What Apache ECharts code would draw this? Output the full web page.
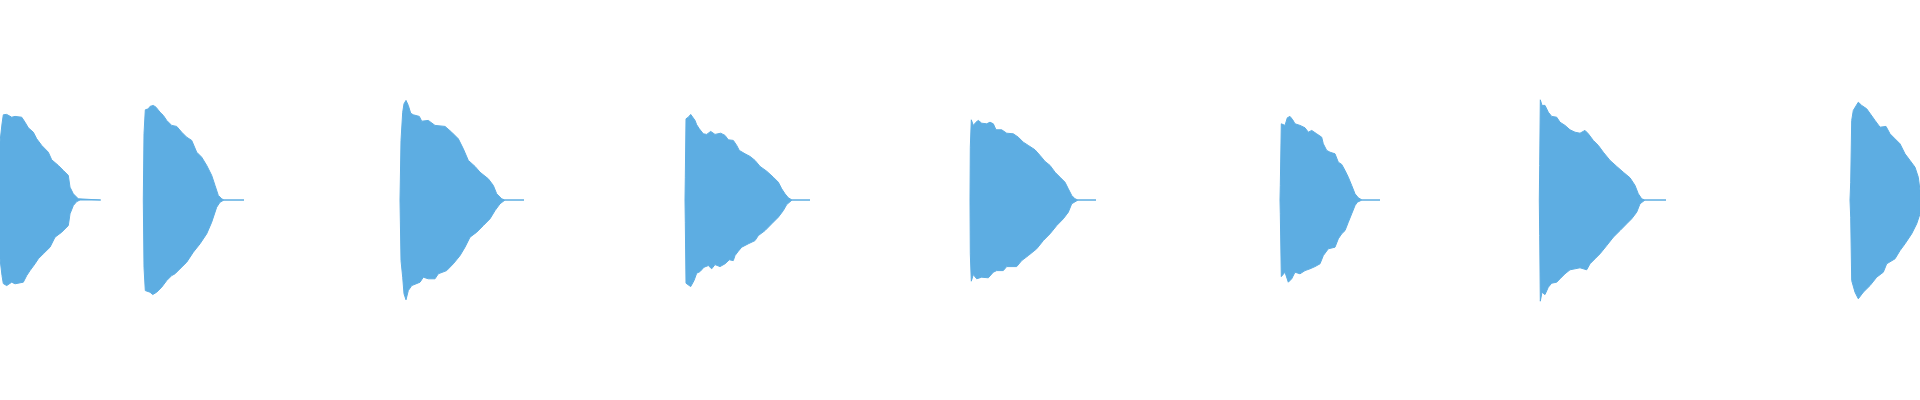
<!DOCTYPE html>
<html>
<head>
<meta charset="utf-8">
<title>waveform</title>
<script src="https://cdn.jsdelivr.net/npm/echarts@6/dist/echarts.min.js"></script>
<style>
  html, body { margin: 0; padding: 0; background: #fff; }
  #chart { width: 1920px; height: 400px; }
</style>
</head>
<body>
<div id="chart"></div>
<script>
// envelope of each burst, [time (s), amplitude]
var burst1Upper = [[0, 0.29], [0.02, 0.38], [0.033, 0.426], [0.067, 0.428], [0.117, 0.414], [0.15, 0.418], [0.217, 0.414], [0.25, 0.389], [0.283, 0.361], [0.333, 0.339], [0.367, 0.306], [0.417, 0.273], [0.483, 0.239], [0.517, 0.201], [0.583, 0.173], [0.633, 0.148], [0.683, 0.123], [0.70, 0.064], [0.733, 0.031], [0.783, 0.006], [0.80, 0], [1.007, 0]];
var burst1Lower = [[0, -0.293], [0.02, -0.378], [0.033, -0.418], [0.067, -0.428], [0.117, -0.411], [0.15, -0.419], [0.233, -0.411], [0.267, -0.378], [0.30, -0.353], [0.35, -0.319], [0.383, -0.294], [0.433, -0.269], [0.50, -0.236], [0.55, -0.186], [0.617, -0.161], [0.683, -0.128], [0.70, -0.069], [0.733, -0.028], [0.767, -0.008], [0.80, 0], [1.007, 0]];

var burst2Upper = [[1.433, 0], [1.44, 0.331], [1.453, 0.451], [1.483, 0.456], [1.50, 0.468], [1.533, 0.473], [1.56, 0.464], [1.60, 0.439], [1.633, 0.423], [1.667, 0.398], [1.717, 0.373], [1.767, 0.368], [1.817, 0.339], [1.867, 0.314], [1.917, 0.298], [1.967, 0.239], [2.017, 0.214], [2.067, 0.173], [2.117, 0.123], [2.15, 0.073], [2.183, 0.023], [2.217, 0.006], [2.24, 0], [2.44, 0]];
var burst2Lower = [[1.433, 0], [1.44, -0.336], [1.453, -0.453], [1.50, -0.461], [1.527, -0.473], [1.567, -0.461], [1.617, -0.436], [1.667, -0.403], [1.717, -0.378], [1.75, -0.369], [1.80, -0.344], [1.867, -0.311], [1.933, -0.261], [2.00, -0.219], [2.067, -0.169], [2.117, -0.111], [2.167, -0.036], [2.20, -0.011], [2.24, 0], [2.44, 0]];

var burst3Upper = [[4.00, 0], [4.01, 0.298], [4.027, 0.439], [4.04, 0.481], [4.06, 0.498], [4.083, 0.473], [4.107, 0.434], [4.133, 0.426], [4.193, 0.418], [4.217, 0.394], [4.283, 0.398], [4.35, 0.373], [4.45, 0.368], [4.517, 0.339], [4.583, 0.306], [4.633, 0.256], [4.683, 0.198], [4.75, 0.168], [4.80, 0.139], [4.883, 0.106], [4.933, 0.073], [4.967, 0.031], [5.017, 0.006], [5.05, 0], [5.24, 0]];
var burst3Lower = [[4.00, 0], [4.01, -0.303], [4.027, -0.386], [4.04, -0.469], [4.06, -0.499], [4.083, -0.453], [4.117, -0.428], [4.20, -0.411], [4.233, -0.386], [4.283, -0.394], [4.35, -0.394], [4.383, -0.369], [4.467, -0.353], [4.533, -0.319], [4.60, -0.278], [4.65, -0.236], [4.70, -0.186], [4.767, -0.161], [4.833, -0.128], [4.90, -0.094], [4.95, -0.053], [5.00, -0.019], [5.05, 0], [5.24, 0]];

var burst4Upper = [[6.85, 0], [6.853, 0.111], [6.86, 0.406], [6.883, 0.414], [6.907, 0.428], [6.927, 0.423], [6.95, 0.398], [6.967, 0.376], [6.993, 0.356], [7.033, 0.331], [7.067, 0.328], [7.107, 0.343], [7.15, 0.328], [7.207, 0.334], [7.25, 0.323], [7.283, 0.301], [7.333, 0.298], [7.367, 0.273], [7.393, 0.248], [7.45, 0.231], [7.50, 0.218], [7.55, 0.198], [7.60, 0.168], [7.667, 0.144], [7.733, 0.114], [7.783, 0.089], [7.817, 0.056], [7.85, 0.031], [7.883, 0.011], [7.92, 0], [8.10, 0]];
var burst4Lower = [[6.85, 0], [6.853, -0.111], [6.86, -0.416], [6.907, -0.433], [6.94, -0.403], [6.967, -0.366], [7.00, -0.358], [7.04, -0.336], [7.083, -0.328], [7.117, -0.344], [7.15, -0.323], [7.20, -0.333], [7.25, -0.319], [7.293, -0.299], [7.333, -0.303], [7.35, -0.278], [7.383, -0.256], [7.417, -0.236], [7.483, -0.219], [7.55, -0.203], [7.583, -0.178], [7.65, -0.153], [7.717, -0.119], [7.783, -0.086], [7.833, -0.053], [7.867, -0.023], [7.92, 0], [8.10, 0]];

var burst5Upper = [[9.70, 0], [9.703, 0.264], [9.713, 0.401], [9.733, 0.373], [9.76, 0.389], [9.783, 0.398], [9.817, 0.384], [9.867, 0.381], [9.90, 0.389], [9.933, 0.381], [9.96, 0.351], [10.017, 0.351], [10.067, 0.334], [10.133, 0.331], [10.183, 0.314], [10.233, 0.289], [10.283, 0.273], [10.35, 0.251], [10.40, 0.223], [10.45, 0.193], [10.50, 0.173], [10.55, 0.139], [10.60, 0.114], [10.65, 0.089], [10.683, 0.056], [10.717, 0.023], [10.75, 0.006], [10.78, 0], [10.96, 0]];
var burst5Lower = [[9.70, 0], [9.703, -0.269], [9.713, -0.406], [9.733, -0.373], [9.767, -0.394], [9.817, -0.386], [9.883, -0.389], [9.933, -0.361], [9.967, -0.353], [10.033, -0.353], [10.067, -0.333], [10.167, -0.333], [10.217, -0.303], [10.283, -0.278], [10.367, -0.244], [10.433, -0.203], [10.50, -0.169], [10.567, -0.128], [10.633, -0.094], [10.683, -0.061], [10.717, -0.019], [10.78, 0], [10.96, 0]];

var burst6Upper = [[12.80, 0], [12.803, 0.073], [12.813, 0.381], [12.833, 0.389], [12.85, 0.373], [12.873, 0.411], [12.90, 0.418], [12.927, 0.401], [12.95, 0.381], [13.00, 0.373], [13.05, 0.361], [13.083, 0.339], [13.117, 0.348], [13.167, 0.331], [13.217, 0.314], [13.233, 0.281], [13.267, 0.248], [13.30, 0.239], [13.35, 0.231], [13.383, 0.189], [13.417, 0.178], [13.45, 0.148], [13.483, 0.114], [13.517, 0.073], [13.55, 0.031], [13.583, 0.011], [13.62, 0], [13.80, 0]];
var burst6Lower = [[12.80, 0], [12.803, -0.069], [12.813, -0.383], [12.85, -0.361], [12.883, -0.411], [12.917, -0.394], [12.95, -0.361], [13.00, -0.369], [13.05, -0.353], [13.10, -0.344], [13.15, -0.333], [13.20, -0.319], [13.233, -0.278], [13.283, -0.244], [13.35, -0.236], [13.383, -0.194], [13.417, -0.169], [13.45, -0.153], [13.483, -0.111], [13.517, -0.069], [13.55, -0.028], [13.573, -0.011], [13.62, 0], [13.80, 0]];

var burst7Upper = [[15.393, 0], [15.397, 0.173], [15.403, 0.501], [15.42, 0.473], [15.45, 0.473], [15.483, 0.439], [15.517, 0.418], [15.567, 0.414], [15.60, 0.389], [15.65, 0.373], [15.70, 0.351], [15.75, 0.339], [15.80, 0.334], [15.85, 0.348], [15.883, 0.331], [15.933, 0.298], [15.983, 0.273], [16.033, 0.239], [16.10, 0.198], [16.167, 0.168], [16.233, 0.139], [16.30, 0.111], [16.35, 0.073], [16.383, 0.031], [16.417, 0.006], [16.45, 0], [16.66, 0]];
var burst7Lower = [[15.393, 0], [15.397, -0.178], [15.403, -0.506], [15.42, -0.461], [15.45, -0.473], [15.483, -0.436], [15.517, -0.416], [15.567, -0.411], [15.60, -0.394], [15.65, -0.369], [15.70, -0.349], [15.80, -0.339], [15.867, -0.349], [15.90, -0.319], [15.95, -0.294], [16.00, -0.269], [16.067, -0.228], [16.133, -0.186], [16.20, -0.153], [16.267, -0.119], [16.317, -0.094], [16.367, -0.061], [16.40, -0.019], [16.45, 0], [16.66, 0]];

var burst8Upper = [[18.50, 0], [18.507, 0.089], [18.517, 0.398], [18.533, 0.448], [18.583, 0.489], [18.617, 0.473], [18.667, 0.456], [18.75, 0.398], [18.80, 0.364], [18.86, 0.368], [18.90, 0.331], [18.95, 0.306], [19.00, 0.281], [19.05, 0.231], [19.10, 0.198], [19.15, 0.164], [19.183, 0.114], [19.20, 0.048]];
var burst8Lower = [[18.50, 0], [18.507, -0.086], [18.517, -0.403], [18.55, -0.461], [18.583, -0.494], [18.633, -0.461], [18.70, -0.428], [18.767, -0.386], [18.833, -0.361], [18.867, -0.319], [18.95, -0.294], [19.00, -0.253], [19.05, -0.219], [19.117, -0.169], [19.167, -0.119], [19.20, -0.069]];

var envelopes = [
  burst1Upper, burst1Lower, burst2Upper, burst2Lower,
  burst3Upper, burst3Lower, burst4Upper, burst4Lower,
  burst5Upper, burst5Lower, burst6Upper, burst6Lower,
  burst7Upper, burst7Lower, burst8Upper, burst8Lower
];

var waveColor = '#5dade2';

let chart = echarts.init(document.getElementById('chart'), null, { renderer: 'canvas' });

// one filled line per half of each burst, area goes to zero
let series = envelopes.map(function (env) {
  return {
    type: 'line',
    data: env,
    symbol: 'none',
    silent: true,
    lineStyle: { width: 1, color: waveColor },
    areaStyle: { color: waveColor, opacity: 1 }
  }
})

chart.setOption({
  animation: false,
  grid: { left: 0, right: 0, top: -1, bottom: 0 },
  xAxis: { type: 'value', min: 0, max: 19.2, show: false },
  yAxis: { type: 'value', min: -1, max: 1, show: false },
  series: series
});
</script>
</body>
</html>
